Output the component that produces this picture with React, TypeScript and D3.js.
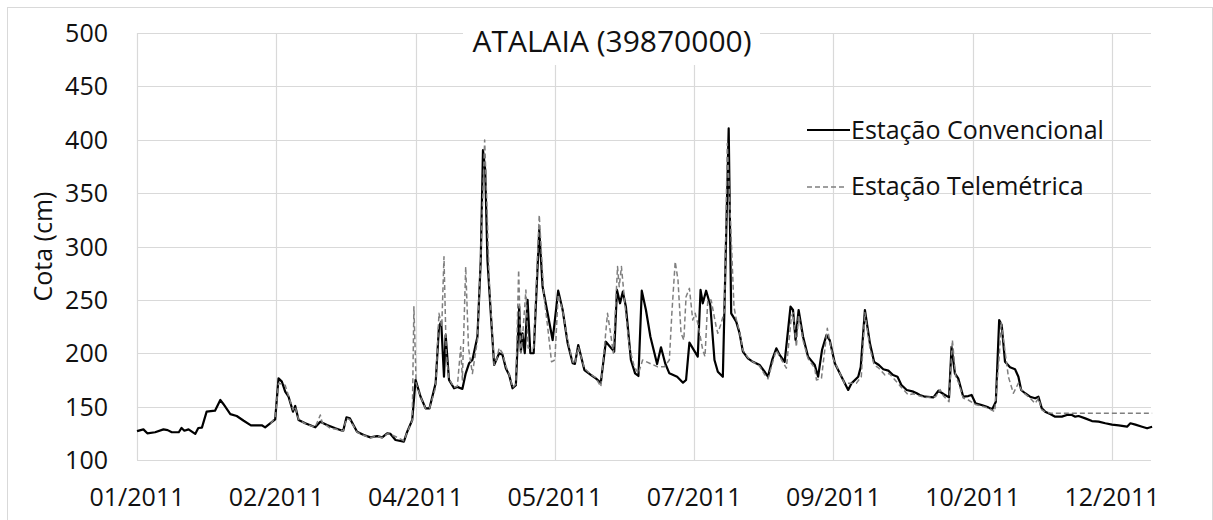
import React from "react";
import * as d3 from "d3";

const title = "ATALAIA (39870000)";
const yAxisTitle = "Cota (cm)";
const seriesNames = ["Estação Convencional", "Estação Telemétrica"];
const yTicks = [100, 150, 200, 250, 300, 350, 400, 450, 500];
const tickStepDays = 50;
const tickCount = 8;

// day offset from 01/01/2011 and water level (cm)
const convDays = [
  0, 2.3, 3.7, 6.5, 9.5, 11, 12.5, 15, 16, 17, 18.5, 19.7, 20.9, 22, 23.3, 25, 28, 29.9, 31, 33.5,
  35.8, 38.3, 40.9, 44.8, 46, 47.8, 49.6, 50.8, 52, 53.2, 54.4, 56, 56.8, 58, 60.4, 64, 65.8, 68.2,
  71.2, 74, 75.2, 76.4, 79, 81.4, 83.8, 86.2, 88, 89.8, 91, 92.8, 95.8, 97, 98.8, 100, 101.8, 103.6,
  105, 107.2, 108.4, 109.2, 110.2, 110.8, 112, 113.8, 115, 116.8, 118, 119.2, 120.4, 122.2, 123.4,
  124.2, 125, 125.8, 127, 128.2, 130, 131.2, 132.4, 133.6, 134.8, 136, 137.2, 137.8, 138.4, 139.2,
  140.2, 141.2, 142.4, 144.4, 145.6, 147.4, 149.2, 151.2, 152.8, 154.6, 156.4, 157.2, 158.4, 160.6,
  163, 164.7, 166.5, 168.3, 171.3, 172.3, 173.4, 174.4, 175.5, 177.3, 178.8, 180, 181.2, 182.7,
  184.3, 186.7, 188.1, 189.6, 191.1, 193.9, 196, 197.1, 198.3, 201.3, 202.3, 203.1, 204.3, 205.8,
  207.3, 208.5, 210.3, 212.4, 213.3, 215.1, 216.3, 217.5, 219.3, 221.1, 223.5, 225.3, 226.5, 228,
  229.5, 230.7, 232.5, 234.6, 235.5, 236.4, 237.5, 239.1, 240.9, 243.3, 244.5, 245.9, 247.5, 248.7,
  250.5, 252.9, 255.3, 256.5, 258.9, 259.8, 261.3, 263.1, 264.6, 266.3, 267.9, 269.7, 271.4, 273,
  274.4, 276.3, 278.7, 279.9, 281, 282.9, 285.9, 287.7, 289.5, 291.5, 292.4, 293.6, 294.8, 296.6,
  298.4, 299.6, 301, 303.2, 305.6, 307, 308.3, 309.5, 310.4, 311.6, 313.4, 315.2, 316.4, 317.4,
  318.8, 320.6, 322.4, 323.6, 324.8, 326, 327.8, 329.6, 332, 333.8, 335.6, 336.8, 338, 340.4, 342.8,
  345.2, 347.6, 350, 352.4, 355.4, 356.6, 358.4, 360.8, 362.6, 364.4,
];
const convValues = [
  127, 128.7, 125, 126, 128.7, 128, 126, 126, 130, 127.4, 128.7, 126.5, 124.4, 130, 130.3, 145.3, 146.2, 156.2, 152.5, 143,
  141.2, 136.8, 132.5, 132.5, 130.6, 134.4, 138, 176.5, 173.4, 164, 159.3, 145.3, 150.6, 137.5, 134.4, 130.6, 135.9, 132.8,
  129.7, 127.2, 140, 139, 126.5, 123.4, 121.2, 122.4, 121.2, 125, 124.4, 118.7, 117.2, 126.5, 137.5, 175, 159.3, 148.4,
  148.4, 171.8, 224.9, 229.6, 178, 217, 175, 167.2, 168.5, 166.6, 181.2, 190.6, 193.7, 215.5, 287.4,
  390.4, 371.7, 287.4, 237.4, 189, 200, 198.5, 186, 179.6, 167.2, 170, 243.6, 201.5, 218.7, 200,
  250, 200, 200, 315.5, 262.3, 237.4, 212.4, 258.6, 240.5, 209.3, 190.6, 190, 207.7, 184.3,
  179.6, 176.5, 172.4, 210.8, 201.5, 259.3, 246.8, 257.7, 243.6, 193.7, 181.2, 178.7, 258.6, 240.5,
  215.5, 190, 205.6, 190.6, 181.2, 178, 172.4, 175, 209.9, 196.8, 259.3, 246.8, 258.6, 245,
  193.7, 182.7, 178, 410.6, 237.4, 229.6, 218.7, 201.5, 195.2, 192, 189, 182.7, 178, 193.7,
  204.6, 198.4, 192, 243.6, 240.5, 212.4, 240.5, 215.5, 196.8, 189, 178, 203, 217, 212,
  190.6, 178, 165.6, 171.8, 178, 187, 240.5, 209.3, 192, 189, 185, 183.7, 179.6, 178,
  170.3, 165.6, 164, 162.5, 160.9, 159.3, 158.7, 164.9, 161.8, 158.7, 206.1, 181.2, 176.5, 159.3,
  159.9, 160.9, 153.1, 151.5, 149.3, 147.5, 154.6, 231.1, 226.5, 192, 186.8, 185, 178, 165.6,
  162.5, 159.3, 157.8, 159.3, 148.4, 145.3, 143, 140.6, 140.6, 142.2, 142.2, 140.6, 141.2, 139, 136.5,
  135.9, 134.4, 133.1, 132.5, 131.2, 134.4, 133.1, 131.2, 129.7, 131.2,
];

const telDays = [
  48, 49.6, 50.8, 53.2, 54.4, 56, 56.8, 58, 60.4, 62.6, 64, 65.8, 66.5, 68.2, 69.4, 71.2, 74, 75.2,
  76.4, 79, 81.4, 83.8, 86.2, 88, 89.8, 91, 93.4, 95.8, 97, 98.8, 99.4, 100.2, 101.8, 103.6, 105,
  107.2, 108.4, 109.4, 110.2, 111, 112, 113.8, 115, 116.2, 116.8, 118, 119, 120.4, 122.2, 123.4,
  124.8, 125.6, 126.4, 127.5, 128.2, 129.2, 130, 131.2, 132.4, 133.6, 134.8, 136, 137, 137.8, 138.4,
  139.6, 140.4, 142.4, 144.4, 146, 147.4, 148.8, 150, 151.2, 152.8, 154.6, 156.4, 157.2, 158.4,
  160.6, 163, 164.7, 166.5, 168.9, 170, 171, 172.5, 173.1, 173.9, 175, 176.7, 178.5, 180, 181.5,
  184.5, 186.9, 189.3, 191.1, 192, 193.2, 194.2, 195.3, 196.3, 197.1, 198.3, 199.5, 200.4, 201.3,
  203.1, 203.9, 204.9, 206.1, 207.9, 208.5, 209.7, 210.9, 211.9, 212.8, 214.3, 215.1, 216.3, 217.5,
  219.3, 221.1, 223.5, 225.3, 226.5, 228, 229.5, 230.7, 233.1, 234.9, 235.5, 236.7, 237.5, 239.1,
  240.9, 243.3, 243.9, 245.7, 247.8, 249.9, 252.9, 254, 258.2, 260, 261.3, 263.1, 264.6, 266.3,
  268.5, 270, 272.1, 274.4, 276.9, 278.7, 281, 282.9, 286.7, 288.3, 289.5, 291.5, 292.7, 293.9,
  295, 296.6, 298.4, 301, 303.2, 305.6, 307.9, 309.6, 310.2, 311.2, 312.8, 314.6, 316.4, 317.4,
  318.8, 320.6, 322.4, 323.6, 324.8, 326, 327.8, 329.6, 364.4,
];
const telValues = [
  134, 140, 172, 170, 160, 147, 150, 138, 134, 131.8, 131, 142.2, 135, 132, 129.7, 129, 127, 139,
  138, 126, 123, 121, 122, 121, 124.5, 124, 121.2, 118, 126, 137, 243.6, 172, 159, 148, 148.5,
  168, 237.4, 225, 290.5, 200, 176, 168, 169, 206, 175, 281, 205, 181, 212, 290,
  399.8, 340, 270, 220, 189, 195, 205, 200, 188, 180, 168, 171, 278, 200, 215,
  259.3, 205, 205, 329.5, 256, 225, 192, 193.7, 255, 240, 212, 192, 190, 206,
  186, 180, 177, 168.6, 237.4, 218.7, 200, 281.2, 262.3, 281.2, 250, 206.1, 187.4, 181, 193.7,
  190, 187.4, 187.4, 193.7, 237.4, 285.8, 268.6, 218.7, 212.4, 253, 260.8, 231.1, 237.4, 228,
  203, 196.8, 250, 250, 224.9, 218.7, 228, 240, 396.6, 340, 243.6, 232, 220, 203,
  196, 192, 188, 180, 176, 190, 203, 197, 186, 234.3, 238, 206, 236, 212,
  195, 186, 175, 176.5, 223.4, 195, 178, 171.8, 171.8, 178, 238, 205, 189, 186,
  179.6, 181, 175, 168, 160.9, 162, 160, 158.5, 159.3, 166, 160, 154.6, 212.4, 178,
  172, 158, 156.2, 152, 150.5, 148.5, 145.3, 200, 229.6, 210, 178, 162.5, 172, 166,
  162, 158, 153, 158, 147, 145, 144, 143.7, 143.7,
];

const W = 1213;
const H = 520;
const plot = { left: 137, right: 1151, top: 33, bottom: 460 };
const FONT = "'Open Sans', 'DejaVu Sans', sans-serif";

const start = new Date(2011, 0, 1);
const toDate = (d: number) => new Date(start.getTime() + d * 86400000);

export default function App() {
  const x = d3
    .scaleTime()
    .domain([start, toDate(364)])
    .range([plot.left, plot.right]);
  const y = d3.scaleLinear().domain([100, 500]).range([plot.bottom, plot.top]);

  const xTicks = d3.range(tickCount).map((k) => toDate(k * tickStepDays));
  const fmt = d3.timeFormat("%m/%Y");

  const line = d3
    .line<[number, number]>()
    .x((p) => x(toDate(p[0])))
    .y((p) => y(p[1]));

  const conv: [number, number][] = convDays.map((d, i) => [d, convValues[i]]);
  const tel: [number, number][] = telDays.map((d, i) => [d, telValues[i]]);

  const grid = "#d9d9d9";

  return (
    <svg
      width={W}
      height={H}
      style={{ position: "absolute", left: 0, top: 0, background: "#fff" }}
    >
      <rect x={0} y={0} width={W} height={H} fill="#fff" />
      <rect x={7.5} y={7.5} width={1205} height={530} fill="none" stroke={grid} strokeWidth={1} />
      {yTicks.map((t) => (
        <line
          key={"h" + t}
          x1={plot.left}
          x2={plot.right}
          y1={Math.round(y(t)) + 0.5}
          y2={Math.round(y(t)) + 0.5}
          stroke={grid}
          strokeWidth={1.2}
        />
      ))}
      {xTicks.map((t, i) => (
        <line
          key={"v" + i}
          x1={Math.round(x(t)) + 0.5}
          x2={Math.round(x(t)) + 0.5}
          y1={plot.top}
          y2={plot.bottom}
          stroke={grid}
          strokeWidth={1.2}
        />
      ))}
      {/* title background */}
      <rect x={463} y={10} width={297} height={55} fill="#fff" />
      <text
        x={612}
        y={52}
        textAnchor="middle"
        fontFamily={FONT}
        fontSize={30}
        fill="#111"
      >
        {title}
      </text>
      {yTicks.map((t) => (
        <text
          key={"yl" + t}
          x={108}
          y={y(t)}
          dy="0.36em"
          textAnchor="end"
          fontFamily={FONT}
          fontSize={25}
          fill="#111"
        >
          {t}
        </text>
      ))}
      {xTicks.map((t, i) => (
        <text
          key={"xl" + i}
          x={x(t)}
          y={506}
          textAnchor="middle"
          fontFamily={FONT}
          fontSize={25}
          fill="#111"
        >
          {fmt(t)}
        </text>
      ))}
      <text
        transform={`translate(52, ${(plot.top + plot.bottom) / 2}) rotate(-90)`}
        textAnchor="middle"
        fontFamily={FONT}
        fontSize={25}
        fill="#111"
      >
        {yAxisTitle}
      </text>
      <path d={line(conv) || ""} fill="none" stroke="#000" strokeWidth={2.2} strokeLinejoin="round" />
      <path
        d={line(tel) || ""}
        fill="none"
        stroke="#7f7f7f"
        strokeWidth={1.5}
        strokeDasharray="5 3"
        strokeLinejoin="round"
      />
      {/* legend */}
      <line x1={807} x2={850} y1={130} y2={130} stroke="#000" strokeWidth={2.2} />
      <text x={851} y={138.5} fontFamily={FONT} fontSize={25} fill="#111">
        {seriesNames[0]}
      </text>
      <line x1={807} x2={846} y1={187} y2={187} stroke="#7f7f7f" strokeWidth={1.5} strokeDasharray="5 3" />
      <text x={851} y={195} fontFamily={FONT} fontSize={25} fill="#111">
        {seriesNames[1]}
      </text>
    </svg>
  );
}
